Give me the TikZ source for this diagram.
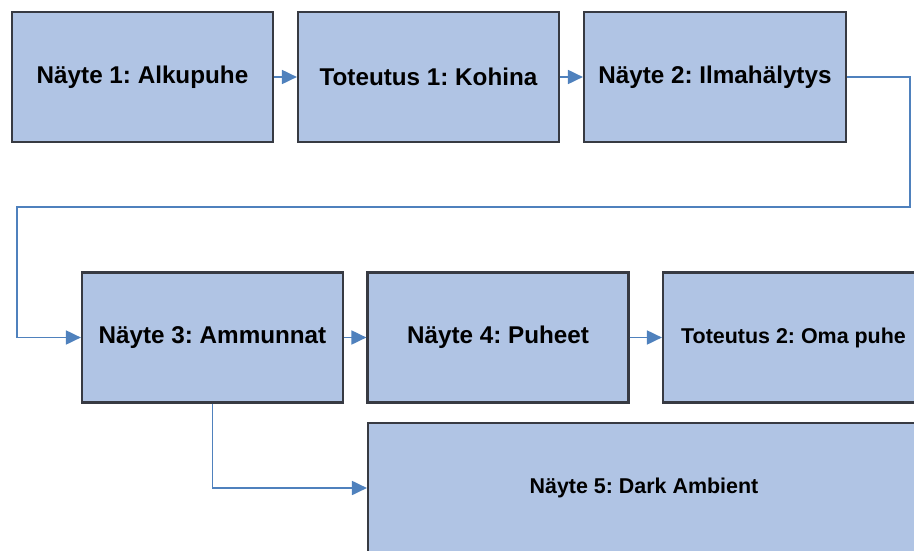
\documentclass[tikz,border=0pt]{standalone}
\usepackage{fontspec}
\setmainfont{Liberation Sans}
\usetikzlibrary{arrows.meta}
\definecolor{laatikko}{RGB}{176,196,228}
\definecolor{reuna}{RGB}{55,58,66}
\definecolor{nuoli}{RGB}{79,129,189}

\begin{document}
\frenchspacing
\begin{tikzpicture}[x=0.02cm, y=-0.02cm]
        \tikzstyle{vaihe}=[fill=laatikko, draw=reuna, line width=1.3pt, minimum width=5.22cm, minimum height=2.6cm, inner sep=0pt, font=\fontsize{13.8}{16}\selectfont\bfseries]
        \tikzstyle{pieni}=[font=\fontsize{12.2}{14}\selectfont\bfseries]
        \tikzstyle{yhteys}=[draw=nuoli, line width=0.9pt, -{Triangle[length=8.5pt, width=8pt]}]

        \useasboundingbox (0,0) rectangle (914,551);
        \clip (0,0) rectangle (914,551);

        \coordinate (A) at (142.5,77);
        \coordinate (B) at (428.5,77);
        \coordinate (C) at (715,77);
        \coordinate (D) at (212.5,337.5);
        \coordinate (E) at (498,337.5);
        \coordinate (F) at (793.5,337.5);
        \coordinate (G) at (644,488);

        \node (n1) at (A)[vaihe]{Näyte 1: Alkupuhe};
        \node (n2) at (B)[vaihe]{Toteutus 1: Kohina};
        \node (n3) at (C)[vaihe, minimum width=5.24cm]{Näyte 2: Ilmahälytys};
        \node (n4) at (D)[vaihe]{Näyte 3: Ammunnat};
        \node (n5) at (E)[vaihe]{Näyte 4: Puheet};
        \node (n6) at (F)[vaihe, pieni]{Toteutus 2: Oma puhe};
        \node (n7) at (G)[vaihe, pieni, minimum width=11.04cm]{Näyte 5: Dark Ambient};

        \coordinate (k1) at (910,207);
        \coordinate (k2) at (17,337.5);

        \draw[yhteys] (n1) -- (n2);
        \draw[yhteys] (n2) -- (n3);
        \draw[yhteys] (n3.east) -| (k1) -| (k2) -- (n4.west);
        \draw[yhteys] (n4) -- (n5);
        \draw[yhteys] (n5) -- (n6);
        \draw[yhteys] (n4.south) |- (n7.west);
      \end{tikzpicture}
\end{document}
